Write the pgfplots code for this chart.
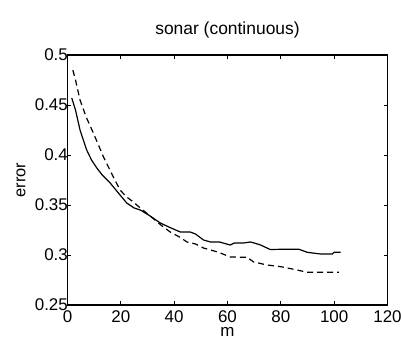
\documentclass[border=0pt]{standalone}
\usepackage{pgfplots}
\pgfplotsset{compat=1.18}
\usepackage{fontspec}
\setmainfont{Liberation Sans}
\begin{document}
\begin{tikzpicture}
\begin{axis}[
  anchor=south west, at={(0,0)},
  scale only axis,
  width=320bp, height=250bp,
  xmin=0, xmax=120, ymin=0.25, ymax=0.5,
  xtick={0,20,40,60,80,100,120},
  ytick={0.25,0.3,0.35,0.4,0.45,0.5},
  yticklabels={0.25,0.3,0.35,0.4,0.45,0.5},
  /pgf/number format/assume math mode=true,
  tick align=inside,
  major tick length=4bp,
  axis line style={line width=1.1pt},
  every tick/.style={line width=0.9pt, black},
  tick label style={font=\fontsize{17}{18}\selectfont},
  yticklabel style={inner sep=0.5bp, xshift=1bp},
  xticklabel style={inner sep=0.5bp, yshift=-4.5bp},
  title={sonar (continuous)},
  title style={font=\fontsize{17.5}{19}\selectfont, at={(axis description cs:0.5,1)}, anchor=base, yshift=15bp},
  xlabel={m},
  every axis x label/.style={font=\fontsize{17}{18}\selectfont, at={(axis description cs:0.5,0)}, anchor=base, inner sep=0pt, yshift=-31.5bp},
  ylabel={error},
  every axis y label/.style={font=\fontsize{16.5}{18}\selectfont, at={(axis description cs:-0.1453,0.5)}, anchor=center, rotate=90},
]
\addplot[black, line width=1.2pt] coordinates {
(1.6,0.457) (3,0.445) (4.7,0.425) (7.2,0.405) (9,0.395) (11,0.387) (13,0.380)
(16,0.372) (19.7,0.360) (22.2,0.352) (25,0.347) (27.3,0.345) (31,0.339)
(34.8,0.332) (38,0.328) (42.3,0.323) (46,0.323) (48,0.321) (51,0.315)
(53.6,0.313) (57,0.313) (61,0.310) (62.5,0.312) (66,0.312) (68.6,0.313)
(70,0.312) (72.4,0.310) (76,0.3055) (80,0.3057) (86.8,0.3057) (89.9,0.3027)
(94.9,0.301) (99.3,0.301) (100,0.3027) (102.4,0.3027)
};
\addplot[black, line width=1.2pt, dash pattern=on 6bp off 4bp] coordinates {
(2,0.485) (3,0.475) (4.7,0.455) (7,0.438) (9.7,0.422) (13.5,0.398)
(17.2,0.378) (19.7,0.365) (22.2,0.358) (24.7,0.353) (27.3,0.347) (31,0.339)
(35,0.330) (38.5,0.323) (42,0.318) (44.8,0.313) (48,0.311) (51,0.307)
(55,0.304) (57.3,0.302) (61,0.298) (67.4,0.2977) (69.8,0.293) (74.9,0.290)
(80,0.2883) (84.9,0.2857) (89.9,0.2827) (101.8,0.2827)
};
\end{axis}
\pgfresetboundingbox
\path[use as bounding box] (-67.5bp,-34bp) rectangle (333.5bp,305bp);
\end{tikzpicture}
\end{document}
